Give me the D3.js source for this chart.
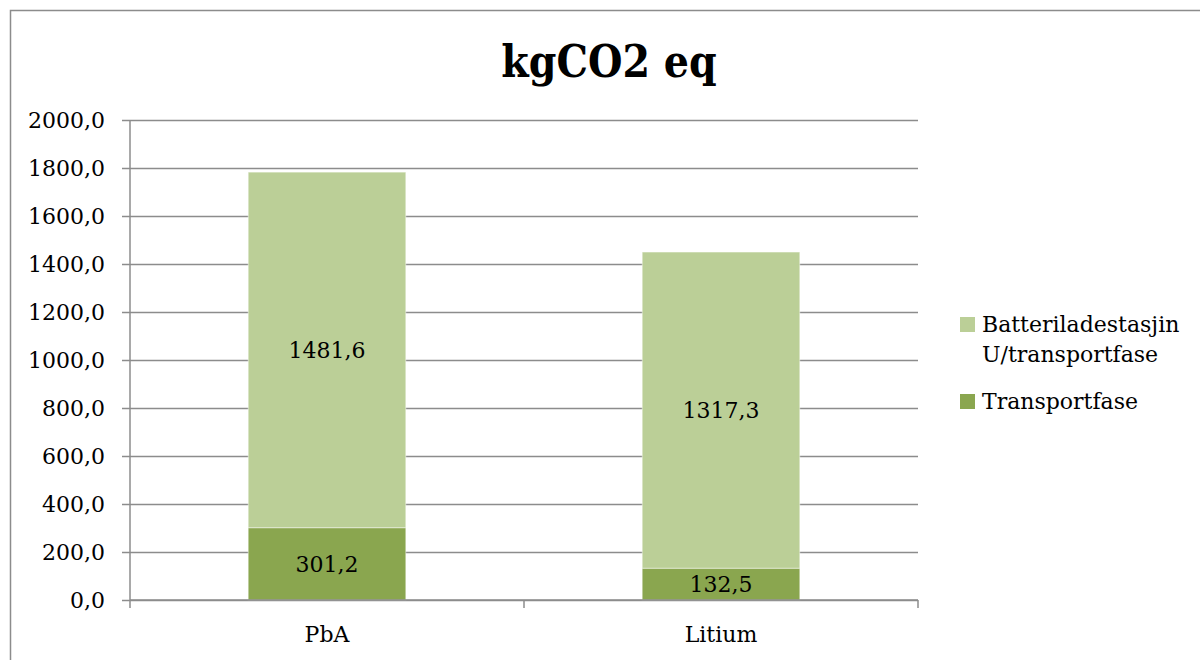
<!DOCTYPE html>
<html>
<head>
<meta charset="utf-8">
<script src="https://cdn.jsdelivr.net/npm/d3@7"></script>
<style>
  html, body { margin: 0; padding: 0; background: #fff; }
  svg { display: block; }
  svg text { font-family: "DejaVu Serif", serif; }
</style>
</head>
<body>
<svg id="chart" width="1200" height="660"></svg>
<script>
// Emissions per battery option, stacked by phase
const categories = ["PbA", "Litium"];
const transportfase = [301.2, 132.5];
const batteriladestasjin = [1481.6, 1317.3];
const seriesNames = ["Transportfase", "Batteriladestasjin U/transportfase"];
const legendLines = [["Batteriladestasjin", "U/transportfase"], ["Transportfase"]];
const yTicks = [0, 200, 400, 600, 800, 1000, 1200, 1400, 1600, 1800, 2000];
const colors = ["#8aa64f", "#bbcf97"];

const FONT = "DejaVu Serif, serif";
const svg = d3.select("#chart");
const plot = { left: 130, right: 918, top: 120, bottom: 600 };

// Outer chart frame
svg.append("rect")
  .attr("x", 10.5).attr("y", 10.5)
  .attr("width", 1200).attr("height", 700)
  .attr("fill", "none").attr("stroke", "#8c8c8c").attr("stroke-width", 1.5);

svg.append("text")
  .attr("x", 609).attr("y", 77)
  .attr("text-anchor", "middle")
  .attr("font-family", "'DejaVu Serif Condensed', 'DejaVu Serif', serif")
  .attr("font-stretch", "condensed")
  .attr("font-size", 44).attr("font-weight", "bold")
  .attr("fill", "#000")
  .text("kgCO2 eq");

const x = d3.scaleBand()
  .domain(categories)
  .range([plot.left, plot.right])
  .paddingInner(0.6).paddingOuter(0.3);

const y = d3.scaleLinear().domain([0, 2000]).range([plot.bottom, plot.top]);

const fmt = v => d3.format(".1f")(v).replace(".", ",");

// Horizontal gridlines with y axis labels
const yAxis = d3.axisLeft(y).tickValues(yTicks).tickFormat(fmt)
  .tickSize(-(plot.right - plot.left)).tickPadding(25);
const gy = svg.append("g")
  .attr("transform", `translate(${plot.left},0)`)
  .call(yAxis);
gy.attr("font-family", FONT);
gy.select(".domain").remove();
gy.selectAll(".tick line")
  .attr("x1", -8).attr("x2", plot.right - plot.left)
  .attr("stroke", "#8c8c8c").attr("stroke-width", 1.5);
gy.selectAll(".tick text")
  .attr("font-size", 22).attr("fill", "#000")
  .attr("font-family", FONT);

// Stacked bars
const rows = categories.map((c, i) => ({ cat: c, t: transportfase[i], b: batteriladestasjin[i] }));
const stack = d3.stack().keys(["t", "b"])(rows);

const layers = svg.append("g").selectAll("g")
  .data(stack).join("g")
  .attr("fill", (d, i) => colors[i]);

layers.selectAll("rect")
  .data(d => d).join("rect")
  .attr("x", d => x(d.data.cat))
  .attr("width", x.bandwidth())
  .attr("y", d => y(d[1]))
  .attr("height", d => y(d[0]) - y(d[1]))
  .attr("stroke", "#ffffff").attr("stroke-opacity", 0.45).attr("stroke-width", 1);

layers.selectAll("text")
  .data(d => d).join("text")
  .attr("x", d => x(d.data.cat) + x.bandwidth() / 2)
  .attr("y", d => (y(d[0]) + y(d[1])) / 2)
  .attr("dy", "0.36em")
  .attr("text-anchor", "middle")
  .attr("font-family", FONT)
  .attr("font-size", 22).attr("fill", "#000")
  .text(d => fmt(d[1] - d[0]));

// Category axis
const gx = svg.append("g");
gx.append("line")
  .attr("x1", plot.left).attr("x2", plot.right)
  .attr("y1", plot.bottom).attr("y2", plot.bottom)
  .attr("stroke", "#8c8c8c").attr("stroke-width", 1.5);
gx.append("line")
  .attr("x1", plot.left).attr("x2", plot.left)
  .attr("y1", plot.top).attr("y2", plot.bottom + 8)
  .attr("stroke", "#8c8c8c").attr("stroke-width", 1.5);
const bounds = categories.map(c => x(c) + x.bandwidth() + x.step() * x.paddingInner() / 2);
gx.selectAll("line.sep")
  .data(bounds).join("line")
  .attr("class", "sep")
  .attr("x1", d => d).attr("x2", d => d)
  .attr("y1", plot.bottom).attr("y2", plot.bottom + 8)
  .attr("stroke", "#8c8c8c").attr("stroke-width", 1.5);
gx.selectAll("text")
  .data(categories).join("text")
  .attr("x", d => x(d) + x.bandwidth() / 2)
  .attr("y", 642)
  .attr("text-anchor", "middle")
  .attr("font-family", FONT)
  .attr("font-size", 22).attr("fill", "#000")
  .text(d => d);

// Legend
const legendY = [324, 401];
const legend = svg.append("g");
[1, 0].forEach((si, k) => {
  const g = legend.append("g");
  g.append("rect")
    .attr("x", 960).attr("y", legendY[k] - 7)
    .attr("width", 15).attr("height", 15)
    .attr("fill", colors[si]);
  const t = g.append("text")
    .attr("x", 982).attr("y", legendY[k] + 8)
    .attr("font-family", FONT)
    .attr("font-size", 22).attr("fill", "#000");
  legendLines[k].forEach((line, j) => {
    t.append("tspan").attr("x", 982).attr("dy", j === 0 ? 0 : 30).text(line);
  });
});
</script>
</body>
</html>
